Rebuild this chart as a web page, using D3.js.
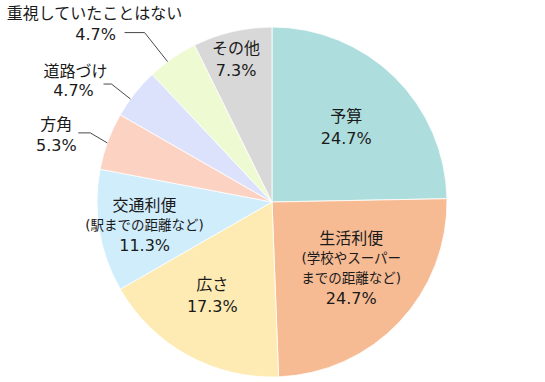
<!DOCTYPE html>
<html>
<head>
<meta charset="utf-8">
<script src="https://cdn.jsdelivr.net/npm/d3@7"></script>
<style>
  html, body { margin: 0; padding: 0; background: #fff; }
  svg { display: block; font-family: "DejaVu Sans", "Noto Sans CJK JP", sans-serif; }
</style>
</head>
<body>
<svg id="chart" width="545" height="382"></svg>
<script>
// ---- data ----
const categories = ["予算", "生活利便", "広さ", "交通利便", "方角", "道路づけ", "重視していたことはない", "その他"];
const subLabels = ["", "(学校やスーパー\nまでの距離など)", "", "(駅までの距離など)", "", "", "", ""];
const values = [24.7, 24.7, 17.3, 11.3, 5.3, 4.7, 4.7, 7.3];
const colors = ["#aedddd", "#f7bb94", "#feebb4", "#d0edfc", "#fcd2c3", "#dce2fc", "#eefad2", "#d8d8d8"];

// ---- layout ----
const width = 545, height = 382;
const cx = 272, cy = 202, R = 175;
// inside labels: radius from centre (fraction of R) and angular tweak (deg)
const inside = {
  0: { r: 0.60, da: 0.5 },
  1: { r: 0.59, da: -3.5 },
  2: { r: 0.635, da: 3.5 },
  3: { r: 0.74, da: -0.8 },
  7: { r: 0.84, da: -1 }
};
// outside labels: leader start angle tweak, elbow offset, horizontal length, text offsets
const outside = {
  4: { da: -0.6, ex: -17, ey: -10, len: 12, tx: -22, y1: -8, y2: 13 },
  5: { da: -2.3, ex: -19, ey: -15, len: 8,  tx: -28, y1: -12.5, y2: 6, tx2: -30 },
  6: { da: -1.9, ex: -23, ey: -29, len: 20, tx: -30, y1: -19, y2: 2, tx2: -29 }
};

const svg = d3.select("#chart");
const g = svg.append("g").attr("transform", `translate(${cx},${cy})`);

const pie = d3.pie().sort(null).value(d => d)(values);
const arc = d3.arc().innerRadius(0).outerRadius(R);

g.selectAll("path.slice")
  .data(pie)
  .join("path")
  .attr("class", "slice")
  .attr("d", arc)
  .attr("fill", (d, i) => colors[i])
  .attr("stroke", "#fff")
  .attr("stroke-width", 0.8);

const fmt = v => v.toFixed(1) + "%";
const polar = (ang, r) => [r * Math.sin(ang), -r * Math.cos(ang)];
const deg = Math.PI / 180;

pie.forEach((d, i) => {
  const mid = (d.startAngle + d.endAngle) / 2;
  if (inside[i]) {
    const cfg = inside[i];
    const [x, y] = polar(mid + cfg.da * deg, R * cfg.r);
    const lines = [{ t: categories[i], s: 16 }];
    if (subLabels[i]) subLabels[i].split("\n").forEach(t => lines.push({ t, s: 13.5 }));
    lines.push({ t: fmt(values[i]), s: 16 });
    const gaps = lines.map((l, k) => k === 0 ? 0 : ((lines[k].s < 16 || lines[k - 1].s < 16) ? 20 : 22));
    const total = d3.sum(gaps);
    let yy = y - total / 2;
    lines.forEach((l, k) => {
      yy += gaps[k];
      g.append("text")
        .attr("x", x).attr("y", yy)
        .attr("text-anchor", "middle")
        .attr("dominant-baseline", "central")
        .attr("font-size", l.s)
        .attr("fill", "#1a1a1a")
        .text(l.t);
    });
  } else if (outside[i]) {
    const cfg = outside[i];
    const [sx, sy] = polar(mid + cfg.da * deg, R);
    const ex = sx + cfg.ex, ey = sy + cfg.ey;
    const hx = ex - cfg.len;
    g.append("polyline")
      .attr("points", [[sx, sy], [ex, ey], [hx, ey]].map(p => p.join(",")).join(" "))
      .attr("fill", "none")
      .attr("stroke", "#333")
      .attr("stroke-width", 0.9);
    g.append("text")
      .attr("x", hx + cfg.tx).attr("y", ey + cfg.y1)
      .attr("text-anchor", "middle")
      .attr("dominant-baseline", "central")
      .attr("font-size", 16)
      .attr("fill", "#1a1a1a")
      .text(categories[i]);
    g.append("text")
      .attr("x", hx + (cfg.tx2 !== undefined ? cfg.tx2 : cfg.tx)).attr("y", ey + cfg.y2)
      .attr("text-anchor", "middle")
      .attr("dominant-baseline", "central")
      .attr("font-size", 16)
      .attr("fill", "#1a1a1a")
      .text(fmt(values[i]));
  }
});
</script>
</body>
</html>
